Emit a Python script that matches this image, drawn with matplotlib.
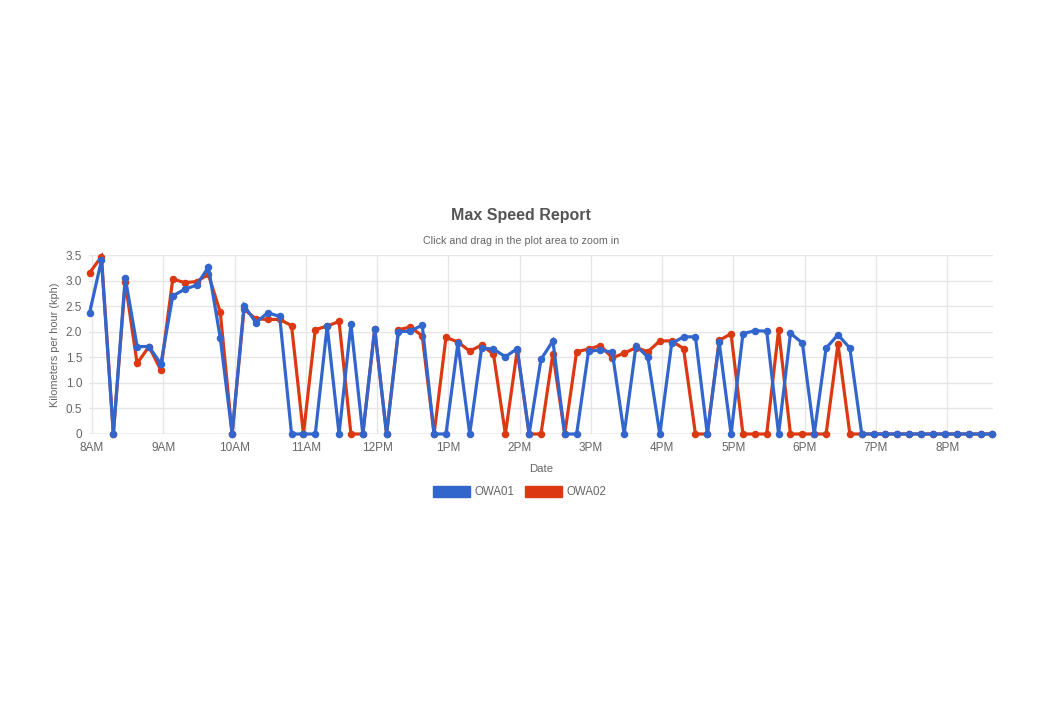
import datetime as dt
import matplotlib
matplotlib.use('Agg')
import matplotlib.pyplot as plt
import matplotlib.dates as mdates
from matplotlib.patches import Patch

plt.rcParams['font.family'] = ['Liberation Sans', 'DejaVu Sans']

start = dt.datetime(2020, 1, 1, 7, 58)
step_minutes = 10

owa01 = [2.37, 3.40, 0, 3.06, 1.71, 1.71, 1.37, 2.70, 2.83, 2.91,
         3.26, 1.88, 0, 2.51, 2.18, 2.37, 2.30, 0, 0, 0,
         2.11, 0, 2.15, 0, 2.05, 0, 2.00, 2.01, 2.13, 0,
         0, 1.77, 0, 1.68, 1.66, 1.51, 1.67, 0, 1.46, 1.82,
         0, 0, 1.62, 1.64, 1.60, 0, 1.73, 1.50, 0, 1.77,
         1.90, 1.90, 0, 1.79, 0, 1.96, 2.02, 2.01, 0, 1.97,
         1.78, 0, 1.68, 1.94, 1.68, 0, 0, 0, 0, 0,
         0, 0, 0, 0, 0, 0, 0]
owa02 = [3.15, 3.47, 0, 2.97, 1.38, 1.71, 1.25, 3.03, 2.96, 2.98,
         3.12, 2.38, 0, 2.44, 2.25, 2.24, 2.24, 2.12, 0, 2.04,
         2.11, 2.20, 0, 0, 2.05, 0, 2.04, 2.09, 1.92, 0,
         1.89, 1.80, 1.62, 1.74, 1.56, 0, 1.64, 0, 0, 1.57,
         0, 1.61, 1.66, 1.73, 1.49, 1.58, 1.69, 1.61, 1.82, 1.82,
         1.67, 0, 0, 1.83, 1.96, 0, 0, 0, 2.03, 0,
         0, 0, 0, 1.76, 0, 0, 0, 0, 0, 0,
         0, 0, 0, 0, 0, 0, 0]
times = [start + dt.timedelta(minutes=step_minutes * i) for i in range(len(owa01))]

blue = '#3366cc'
red = '#dc3912'
grey = '#666666'

fig = plt.figure(figsize=(10.4, 7.2), dpi=100)
ax = fig.add_axes([89 / 1040, 286 / 720, 904 / 1040, 179 / 720])

ax.plot(times, owa02, color=red, lw=2.3, marker='o', ms=4.4,
        solid_joinstyle='miter', clip_on=False, zorder=3)
ax.plot(times, owa01, color=blue, lw=2.3, marker='o', ms=4.4,
        solid_joinstyle='miter', clip_on=False, zorder=4)

ax.set_xlim(dt.datetime(2020, 1, 1, 7, 57, 30), dt.datetime(2020, 1, 1, 20, 38, 30))
ax.set_ylim(0, 3.5)
ax.set_yticks([0, 0.5, 1.0, 1.5, 2.0, 2.5, 3.0, 3.5])
ax.set_yticklabels(['0', '0.5', '1.0', '1.5', '2.0', '2.5', '3.0', '3.5'])
ax.xaxis.set_major_locator(mdates.HourLocator())
ax.xaxis.set_major_formatter(
    matplotlib.ticker.FuncFormatter(
        lambda v, p: mdates.num2date(v).strftime('%I%p').lstrip('0')))

for s in ax.spines.values():
    s.set_visible(False)
ax.grid(True, color='#e6e6e6', lw=1)
ax.set_axisbelow(True)
ax.tick_params(axis='both', colors=grey, labelsize=8.5, length=0, pad=6)
ax.tick_params(axis='y', pad=5)
ax.axhline(0, color='#cccccc', lw=1, zorder=1)

ax.set_xlabel('Date', color=grey, fontsize=8.2, labelpad=7)
ax.set_ylabel('Kilometers per hour (kph)', color=grey, fontsize=7.9, labelpad=4)

fig.text(521 / 1040, 1 - 215 / 720, 'Max Speed Report', ha='center', va='center',
         fontsize=11.5, fontweight='bold', color='#555555')
fig.text(521 / 1040, 1 - 241 / 720, 'Click and drag in the plot area to zoom in',
         ha='center', va='center', fontsize=7.7, color=grey)

handles = [Patch(color=blue, label='OWA01'), Patch(color=red, label='OWA02')]
fig.legend(handles=handles, loc='center', bbox_to_anchor=(520 / 1040, 1 - 492 / 720),
           ncol=2, frameon=False, handlelength=3.2, handleheight=1.1,
           handletextpad=0.4, columnspacing=0.9, labelcolor=grey, fontsize=8.3)

fig.savefig('out.png', dpi=100, facecolor='white')
